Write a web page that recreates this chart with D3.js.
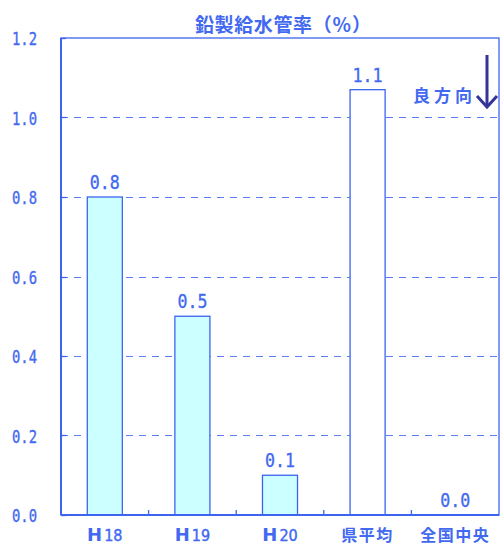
<!DOCTYPE html>
<html><head><meta charset="utf-8">
<script src="https://cdn.jsdelivr.net/npm/d3@7"></script>
<style>body{margin:0;background:#fff}</style>
</head><body>
<script>
const categories = ["H18","H19","H20","県平均","全国中央"];
const values = [0.8, 0.5, 0.1, 1.07, 0.0];
const valueLabels = ["0.8","0.5","0.1","1.1","0.0"];
const yTicks = [0, 0.2, 0.4, 0.6, 0.8, 1.0, 1.2];
const title = "鉛製給水管率（％）";
const note = "良方向";

const W = 500, H = 548;
const m = {l:61, r:1, t:38, b:33};
const blue = "#3c64f0", txt = "#4269f0";
const svg = d3.select("body").append("svg").attr("width",W).attr("height",H);

const x = d3.scaleBand().domain(categories).range([m.l, W-m.r]);
const y = d3.scaleLinear().domain([0,1.2]).range([H-m.b, m.t]);
const snap = v => Math.round(v) + 0.5;
const numFont = "'DejaVu Sans Mono', monospace";
const cjk = "'Noto Sans CJK JP', sans-serif";

// gridlines
svg.append("g").selectAll("line").data(yTicks.filter(d=>d>0 && d<1.2)).join("line")
  .attr("x1",m.l).attr("x2",W-m.r).attr("y1",d=>snap(y(d))).attr("y2",d=>snap(y(d)))
  .attr("stroke","#5a7ef2").attr("stroke-width",1).attr("stroke-dasharray","7,6");

// bars
const bw = x.bandwidth()*0.4;
svg.append("g").selectAll("rect").data(values).join("rect")
  .attr("x",(d,i)=>x(categories[i])+x.bandwidth()/2-bw/2)
  .attr("y",d=>y(d)).attr("width",bw).attr("height",d=>y(0)-y(d))
  .attr("fill",(d,i)=>i===3?"#ffffff":"#ccffff")
  .attr("stroke",blue).attr("stroke-width",1.3);

// frame
svg.append("rect").attr("x",m.l).attr("y",m.t).attr("width",W-m.r-m.l).attr("height",H-m.b-m.t)
  .attr("fill","none").attr("stroke",blue).attr("stroke-width",1.3);
svg.append("line").attr("x1",m.l).attr("x2",m.l).attr("y1",m.t).attr("y2",H-m.b).attr("stroke",blue).attr("stroke-width",2);
svg.append("line").attr("x1",m.l).attr("x2",W-m.r).attr("y1",H-m.b).attr("y2",H-m.b).attr("stroke",blue).attr("stroke-width",2);

// category boundary ticks (inward)
svg.append("g").selectAll("line").data(categories.slice(1)).join("line")
  .attr("x1",d=>x(d)).attr("x2",d=>x(d)).attr("y1",H-m.b).attr("y2",H-m.b-5)
  .attr("stroke",blue).attr("stroke-width",1.3);
// y ticks (inward)
svg.append("g").selectAll("line").data(yTicks).join("line")
  .attr("x1",m.l).attr("x2",m.l+5).attr("y1",d=>snap(y(d))).attr("y2",d=>snap(y(d)))
  .attr("stroke",blue).attr("stroke-width",1.3);

// y labels
svg.append("g").selectAll("text").data(yTicks).join("text")
  .attr("x",12).attr("y",d=>y(d)+7)
  .attr("font-family",numFont).attr("font-size",18).attr("fill",txt)
  .attr("stroke",txt).attr("stroke-width",0.35)
  .attr("textLength",25).attr("lengthAdjust","spacingAndGlyphs")
  .text(d=>d.toFixed(1));

// value labels
svg.append("g").selectAll("text").data(values).join("text")
  .attr("x",(d,i)=>x(categories[i])+x.bandwidth()/2).attr("y",d=>y(d)-8)
  .attr("text-anchor","middle")
  .attr("font-family",numFont).attr("font-size",20).attr("fill",txt)
  .attr("stroke",txt).attr("stroke-width",0.35)
  .attr("textLength",30).attr("lengthAdjust","spacingAndGlyphs")
  .text((d,i)=>valueLabels[i]);

// x labels
const xl = svg.append("g").selectAll("text").data(categories).join("text")
  .attr("x",d=>x(d)+x.bandwidth()/2).attr("y",H-7)
  .attr("text-anchor","middle").attr("fill",txt).attr("font-weight","bold")
  .attr("font-family",cjk).attr("font-size",16);
xl.each(function(d){
  const t = d3.select(this);
  if (d[0]==="H") {
    t.append("tspan").attr("font-family","'DejaVu Sans', sans-serif").attr("font-size",18).text("H");
    t.append("tspan").attr("font-family","'DejaVu Sans Condensed','DejaVu Sans', sans-serif").attr("font-weight","normal")
      .attr("stroke",txt).attr("stroke-width",0.4).attr("font-size",16).attr("dx",2).text(d.slice(1));
  } else {
    t.attr("letter-spacing",1.5).text(d);
  }
});

// title
svg.append("text").attr("x",283).attr("y",32).attr("text-anchor","middle")
  .attr("font-family",cjk).attr("font-weight","bold").attr("font-size",19)
  .attr("fill",txt).attr("textLength",176).attr("lengthAdjust","spacing").text(title);

// good direction note
svg.append("text").attr("x",413).attr("y",102)
  .attr("font-family",cjk).attr("font-weight","bold").attr("font-size",17)
  .attr("fill",txt).attr("textLength",59).attr("lengthAdjust","spacing").text(note);
const ax = 487;
svg.append("line").attr("x1",ax).attr("x2",ax).attr("y1",55).attr("y2",107).attr("stroke","#333399").attr("stroke-width",3);
svg.append("path").attr("d",`M${ax-10},${96} L${ax},${107} L${ax+10},${96}`).attr("fill","none").attr("stroke","#333399").attr("stroke-width",3);
</script>
</body></html>
